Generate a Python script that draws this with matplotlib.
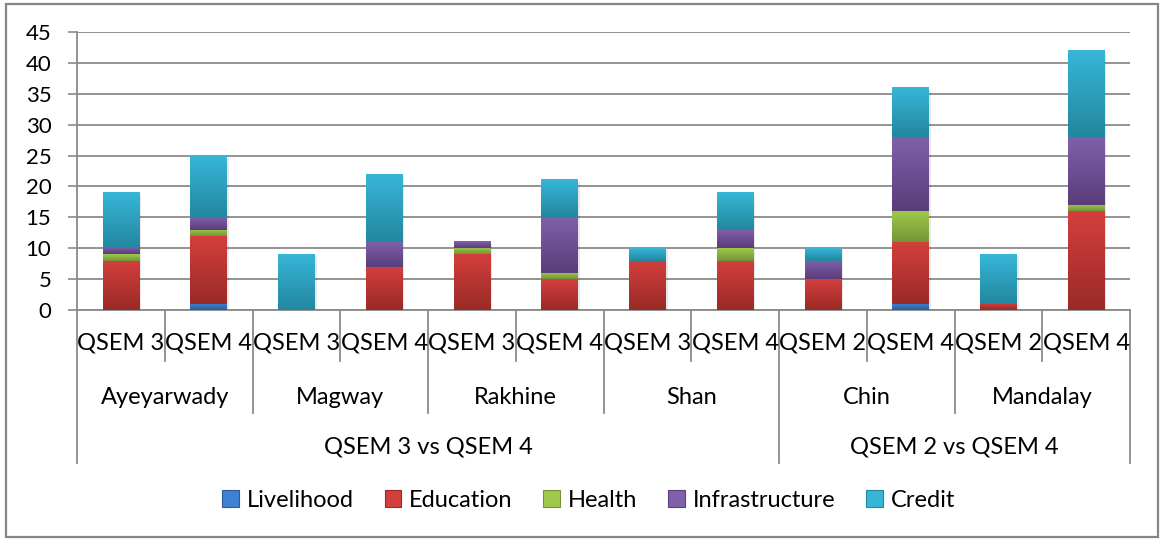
import matplotlib
matplotlib.use("Agg")
import matplotlib.pyplot as plt
import numpy as np
from matplotlib.colors import LinearSegmentedColormap
from matplotlib.patches import Patch, Rectangle
import matplotlib.patheffects as pe

# ── Data ──────────────────────────────────────────────────────────────────────

rounds    = ["QSEM 3", "QSEM 4", "QSEM 3", "QSEM 4", "QSEM 3", "QSEM 4",
             "QSEM 3", "QSEM 4", "QSEM 2", "QSEM 4", "QSEM 2", "QSEM 4"]
regions   = ["Ayeyarwady", "Magway", "Rakhine", "Shan", "Chin", "Mandalay"]
groups    = ["QSEM 3 vs QSEM 4", "QSEM 2 vs QSEM 4"]
group_len = [4, 2]   # regions per group

series = ["Livelihood", "Education", "Health", "Infrastructure", "Credit"]
livelihood     = [0, 1, 0, 0, 0, 0, 0, 0, 0, 1, 0, 0]
education      = [8, 11, 0, 7, 9, 5, 8, 8, 5, 10, 1, 16]
health         = [1, 1, 0, 0, 1, 1, 0, 2, 0, 5, 0, 1]
infrastructure = [1, 2, 0, 4, 1, 9, 0, 3, 3, 12, 0, 11]
credit         = [9, 10, 9, 11, 0, 6, 2, 6, 2, 8, 8, 14]

# (top colour, bottom colour) for the Excel-style gradient
colors = {
    "Livelihood":     ("#3f82d2", "#2c5c9e"),
    "Education":      ("#d33f3c", "#9a2a27"),
    "Health":         ("#9fc94a", "#739538"),
    "Infrastructure": ("#8060ab", "#5a3d7b"),
    "Credit":         ("#37b6d8", "#23879f"),
}

GRID = "#8a8a8a"
FONT = ["Lato", "DejaVu Sans"]
plt.rcParams["font.family"] = FONT

# ── Plot ──────────────────────────────────────────────────────────────────────

fig = plt.figure(figsize=(11.66, 5.40), dpi=100)
ax = fig.add_axes([77 / 1166, 230 / 540, 1053 / 1166, 278 / 540])

x = np.arange(len(rounds))
width = 0.415
values = [livelihood, education, health, infrastructure, credit]
totals = np.sum(values, axis=0)

# soft shadow under each stack
ax.bar(x, totals, width=width, color="white", zorder=2,
       path_effects=[pe.SimplePatchShadow(offset=(1.5, -1.5), shadow_rgbFace="#000000", alpha=0.09),
                     pe.Normal()])

bottom = np.zeros(len(rounds))
for name, vals in zip(series, values):
    top_c, bot_c = colors[name]
    cmap = LinearSegmentedColormap.from_list(name, [bot_c, top_c])
    for xi, b, v in zip(x, bottom, vals):
        if v <= 0:
            continue
        ax.imshow(np.linspace(0, 1, 64).reshape(-1, 1), cmap=cmap, origin="lower",
                  extent=(xi - width / 2, xi + width / 2, b, b + v),
                  aspect="auto", zorder=3, interpolation="bilinear")
    bottom += np.array(vals)

ax.set_xlim(-0.5, len(rounds) - 0.5)
ax.set_ylim(0, 45)
ax.set_yticks(np.arange(0, 46, 5))
ax.yaxis.grid(True, color=GRID, linewidth=1.3, zorder=0)
ax.set_axisbelow(True)
ax.tick_params(axis="y", length=6.5, width=1.2, color=GRID, pad=12, labelsize=16)
ax.set_xticks([])
for side in ("top", "right"):
    ax.spines[side].set_visible(False)
ax.spines["left"].set_color(GRID)
ax.spines["left"].set_linewidth(1.3)
ax.spines["bottom"].set_color(GRID)
ax.spines["bottom"].set_linewidth(1.3)

# ── Multi-level category axis ────────────────────────────────────────────────

tr = ax.get_xaxis_transform()
L1, L2, L3 = -0.1835, -0.3705, -0.55

def vline(xpos, ybot):
    ax.plot([xpos, xpos], [0, ybot], transform=tr, color=GRID, lw=1.3, clip_on=False)

group_edges = [-0.5]
for n in group_len:
    group_edges.append(group_edges[-1] + 2 * n)
region_edges = [-0.5 + 2 * i for i in range(len(regions) + 1)]

for b in np.arange(-0.5, len(rounds), 1.0):
    if b in group_edges:
        vline(b, L3)
    elif b in region_edges:
        vline(b, L2)
    else:
        vline(b, L1)

for xi, lab in zip(x, rounds):
    ax.text(xi, -0.119, lab, transform=tr, ha="center", va="center", fontsize=17)
for i, reg in enumerate(regions):
    ax.text(2 * i + 0.5, -0.313, reg, transform=tr, ha="center", va="center", fontsize=17)
for g, lo, hi in zip(groups, group_edges[:-1], group_edges[1:]):
    ax.text((lo + hi) / 2, -0.493, g, transform=tr, ha="center", va="center", fontsize=17)

# ── Legend & frame ────────────────────────────────────────────────────────────

handles = [Patch(facecolor=colors[s][0], edgecolor=colors[s][1], linewidth=0.8) for s in series]
fig.legend(handles, series, loc="center", bbox_to_anchor=(0.505, 0.074), ncol=5,
           frameon=False, fontsize=17, handlelength=0.7, handleheight=0.7,
           handletextpad=0.35, columnspacing=1.3)

fig.patches.append(Rectangle((6 / 1166, 3 / 540), 1152 / 1166, 533 / 540,
                             transform=fig.transFigure, fill=False,
                             edgecolor="#868686", linewidth=1.6))

fig.savefig("out.png", dpi=100)
